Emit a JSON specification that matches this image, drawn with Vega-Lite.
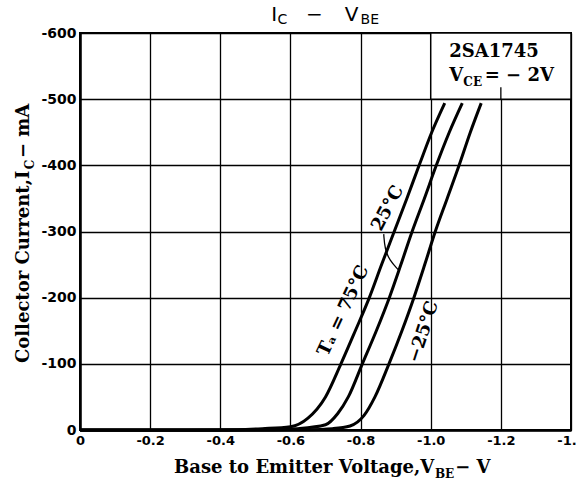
{
  "$schema": "https://vega.github.io/schema/vega-lite/v6.json",
  "width": 491,
  "height": 397,
  "autosize": "none",
  "padding": {"left": 80, "top": 33, "right": 5, "bottom": 57},
  "background": "white",
  "data": {"values": [{}]},
  "config": {
    "view": {"stroke": "black", "strokeWidth": 2},
    "axis": {
      "grid": true, "gridColor": "black", "gridWidth": 1.3, "gridOpacity": 1,
      "domainColor": "black", "domainWidth": 2.5, "ticks": false,
      "labelFont": "DejaVu Sans", "labelFontWeight": "bold", "labelColor": "black",
      "labelFlush": false, "labelOverlap": false, "title": null
    }
  },
  "datasets": {
    "curves": [
      {"t": "75", "v": 0, "i": 0}, {"t": "75", "v": -0.3, "i": 0}, {"t": "75", "v": -0.45, "i": -0.5},
      {"t": "75", "v": -0.52, "i": -2}, {"t": "75", "v": -0.6, "i": -5}, {"t": "75", "v": -0.65, "i": -18},
      {"t": "75", "v": -0.7, "i": -50}, {"t": "75", "v": -0.744, "i": -100}, {"t": "75", "v": -0.785, "i": -150},
      {"t": "75", "v": -0.825, "i": -200}, {"t": "75", "v": -0.86, "i": -250}, {"t": "75", "v": -0.896, "i": -300},
      {"t": "75", "v": -0.932, "i": -350}, {"t": "75", "v": -0.967, "i": -400}, {"t": "75", "v": -1.003, "i": -450},
      {"t": "75", "v": -1.04, "i": -494},
      {"t": "25", "v": 0, "i": 0}, {"t": "25", "v": -0.4, "i": 0}, {"t": "25", "v": -0.55, "i": -0.5},
      {"t": "25", "v": -0.62, "i": -2}, {"t": "25", "v": -0.7, "i": -8}, {"t": "25", "v": -0.735, "i": -25},
      {"t": "25", "v": -0.765, "i": -50}, {"t": "25", "v": -0.805, "i": -100}, {"t": "25", "v": -0.845, "i": -150},
      {"t": "25", "v": -0.882, "i": -200}, {"t": "25", "v": -0.915, "i": -250}, {"t": "25", "v": -0.947, "i": -300},
      {"t": "25", "v": -0.982, "i": -350}, {"t": "25", "v": -1.016, "i": -400}, {"t": "25", "v": -1.053, "i": -450},
      {"t": "25", "v": -1.09, "i": -494},
      {"t": "-25", "v": 0, "i": 0}, {"t": "-25", "v": -0.5, "i": 0}, {"t": "-25", "v": -0.65, "i": -0.5},
      {"t": "-25", "v": -0.72, "i": -2}, {"t": "-25", "v": -0.77, "i": -6}, {"t": "-25", "v": -0.81, "i": -22},
      {"t": "-25", "v": -0.841, "i": -50}, {"t": "-25", "v": -0.881, "i": -100}, {"t": "-25", "v": -0.918, "i": -150},
      {"t": "-25", "v": -0.952, "i": -200}, {"t": "-25", "v": -0.983, "i": -250}, {"t": "-25", "v": -1.013, "i": -300},
      {"t": "-25", "v": -1.047, "i": -350}, {"t": "-25", "v": -1.081, "i": -400}, {"t": "-25", "v": -1.113, "i": -450},
      {"t": "-25", "v": -1.144, "i": -494}
    ],
    "leader": [
      {"v": -0.866, "i": -296}, {"v": -0.869, "i": -274}, {"v": -0.883, "i": -256}, {"v": -0.908, "i": -242}
    ]
  },
  "layer": [
    {
      "data": {"name": "curves"},
      "mark": {"type": "line", "color": "black", "strokeWidth": 3, "interpolate": "monotone"},
      "encoding": {
        "x": {"field": "v", "type": "quantitative",
              "scale": {"domain": [0, -1.4], "nice": false, "zero": false},
              "axis": {"values": [0, -0.2, -0.4, -0.6, -0.8, -1.0, -1.2, -1.4], "labelFontSize": 13, "labelPadding": 4,
                       "labelExpr": "datum.value == 0 ? '0' : '-' + format(-datum.value, '.1f')"}},
        "y": {"field": "i", "type": "quantitative",
              "scale": {"domain": [0, -600], "nice": false, "zero": false},
              "axis": {"values": [0, -100, -200, -300, -400, -500, -600], "labelFontSize": 14, "labelPadding": 4,
                       "labelExpr": "datum.value == 0 ? '0' : '-' + format(-datum.value, 'd')"}},
        "detail": {"field": "t"}
      }
    },
    {
      "data": {"name": "leader"},
      "mark": {"type": "line", "color": "black", "strokeWidth": 1.3, "interpolate": "basis"},
      "encoding": {"x": {"field": "v", "type": "quantitative"}, "y": {"field": "i", "type": "quantitative"}, "order": {"field": "i", "sort": "descending"}}
    },
    {
      "mark": {"type": "rect", "fill": "white", "stroke": "black", "strokeWidth": 1.5},
      "encoding": {"x": {"datum": -1.0}, "x2": {"datum": -1.4}, "y": {"datum": -500}, "y2": {"datum": -600}}
    },
    {
      "mark": {"type": "rule", "color": "black", "strokeWidth": 1.3},
      "encoding": {"x": {"datum": -1.2}, "y": {"datum": -500}, "y2": {"datum": -518}}
    },
    {
      "mark": {"type": "text", "font": "DejaVu Serif", "fontSize": 18, "fontWeight": "bold", "align": "left", "baseline": "alphabetic", "clip": false},
      "encoding": {"x": {"datum": -1.053}, "y": {"datum": -564}, "text": {"value": "2SA1745"}}
    },
    {
      "mark": {"type": "text", "font": "DejaVu Serif", "fontSize": 18, "fontWeight": "bold", "align": "left", "baseline": "alphabetic"},
      "encoding": {"x": {"datum": -1.053}, "y": {"datum": -527}, "text": {"value": "V"}}
    },
    {
      "mark": {"type": "text", "font": "DejaVu Serif", "fontSize": 12, "fontWeight": "bold", "align": "left", "baseline": "alphabetic"},
      "encoding": {"x": {"datum": -1.093}, "y": {"datum": -520}, "text": {"value": "CE"}}
    },
    {
      "mark": {"type": "text", "font": "DejaVu Serif", "fontSize": 18, "fontWeight": "bold", "align": "left", "baseline": "alphabetic"},
      "encoding": {"x": {"datum": -1.154}, "y": {"datum": -527}, "text": {"value": "= − 2V"}}
    },
    {
      "mark": {"type": "text", "font": "DejaVu Serif", "fontSize": 18, "fontWeight": "bold", "align": "center", "baseline": "middle", "angle": -65},
      "encoding": {"x": {"datum": -0.752}, "y": {"datum": -180}, "text": {"value": "Tₐ = 75°C"}}
    },
    {
      "mark": {"type": "text", "font": "DejaVu Serif", "fontSize": 18, "fontWeight": "bold", "align": "center", "baseline": "middle", "angle": -62},
      "encoding": {"x": {"datum": -0.878}, "y": {"datum": -335}, "text": {"value": "25°C"}}
    },
    {
      "mark": {"type": "text", "font": "DejaVu Serif", "fontSize": 18, "fontWeight": "bold", "align": "center", "baseline": "middle", "angle": -72},
      "encoding": {"x": {"datum": -0.98}, "y": {"datum": -148}, "text": {"value": "−25°C"}}
    },
    {
      "mark": {"type": "text", "font": "DejaVu Sans", "fontSize": 20, "align": "left", "baseline": "alphabetic", "clip": false},
      "encoding": {"x": {"datum": -0.545}, "y": {"datum": -618}, "text": {"value": "I"}}
    },
    {
      "mark": {"type": "text", "font": "DejaVu Sans", "fontSize": 14, "align": "left", "baseline": "alphabetic"},
      "encoding": {"x": {"datum": -0.563}, "y": {"datum": -614}, "text": {"value": "C"}}
    },
    {
      "mark": {"type": "text", "font": "DejaVu Sans", "fontSize": 20, "align": "center", "baseline": "alphabetic"},
      "encoding": {"x": {"datum": -0.668}, "y": {"datum": -618}, "text": {"value": "−"}}
    },
    {
      "mark": {"type": "text", "font": "DejaVu Sans", "fontSize": 20, "align": "left", "baseline": "alphabetic"},
      "encoding": {"x": {"datum": -0.755}, "y": {"datum": -618}, "text": {"value": "V"}}
    },
    {
      "mark": {"type": "text", "font": "DejaVu Sans", "fontSize": 14, "align": "left", "baseline": "alphabetic"},
      "encoding": {"x": {"datum": -0.8}, "y": {"datum": -613}, "text": {"value": "BE"}}
    },
    {
      "mark": {"type": "text", "font": "DejaVu Serif", "fontSize": 18, "fontWeight": "bold", "align": "right", "baseline": "alphabetic"},
      "encoding": {"x": {"datum": -1.01}, "y": {"datum": 65}, "text": {"value": "Base to Emitter Voltage,V"}}
    },
    {
      "mark": {"type": "text", "font": "DejaVu Serif", "fontSize": 12, "fontWeight": "bold", "align": "left", "baseline": "alphabetic"},
      "encoding": {"x": {"datum": -1.012}, "y": {"datum": 72}, "text": {"value": "BE"}}
    },
    {
      "mark": {"type": "text", "font": "DejaVu Serif", "fontSize": 18, "fontWeight": "bold", "align": "left", "baseline": "alphabetic"},
      "encoding": {"x": {"datum": -1.07}, "y": {"datum": 65}, "text": {"value": "− V"}}
    },
    {
      "mark": {"type": "text", "font": "DejaVu Serif", "fontSize": 18, "fontWeight": "bold", "align": "right", "baseline": "alphabetic", "angle": -90},
      "encoding": {"x": {"datum": 0.144}, "y": {"datum": -392}, "text": {"value": "Collector Current,I"}}
    },
    {
      "mark": {"type": "text", "font": "DejaVu Serif", "fontSize": 12, "fontWeight": "bold", "align": "left", "baseline": "alphabetic", "angle": -90},
      "encoding": {"x": {"datum": 0.13}, "y": {"datum": -394}, "text": {"value": "C"}}
    },
    {
      "mark": {"type": "text", "font": "DejaVu Serif", "fontSize": 18, "fontWeight": "bold", "align": "left", "baseline": "alphabetic", "angle": -90},
      "encoding": {"x": {"datum": 0.144}, "y": {"datum": -411}, "text": {"value": "− mA"}}
    }
  ]
}
